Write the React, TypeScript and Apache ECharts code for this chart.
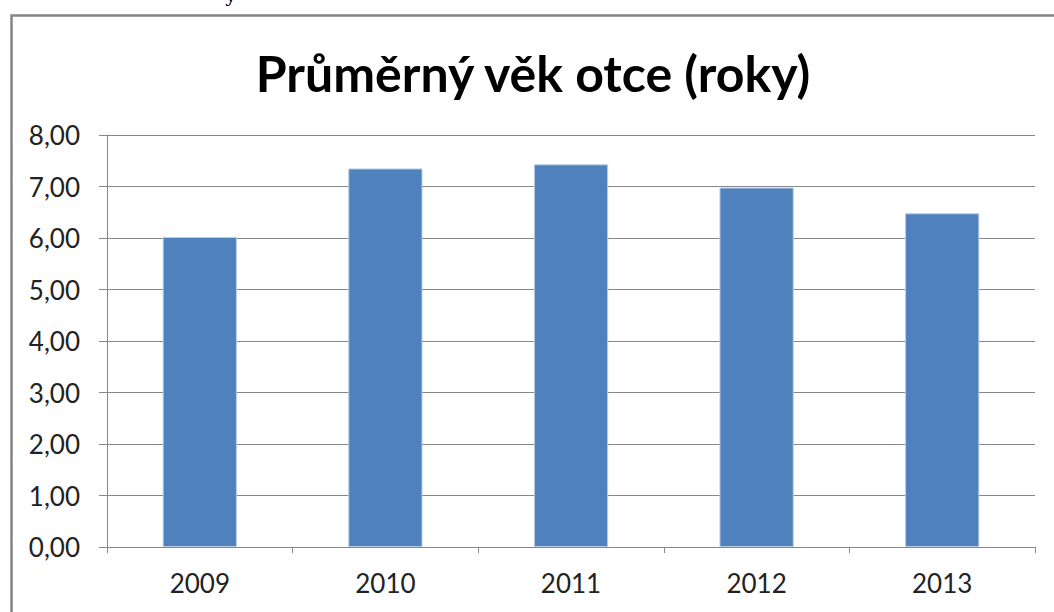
import React, { useEffect, useRef } from "react";
import * as echarts from "echarts";

const categories = ["2009", "2010", "2011", "2012", "2013"];
const values = [6.02, 7.35, 7.43, 6.98, 6.48];
const titleText = "Průměrný věk otce (roky)";
const FONT = "Lato, 'Open Sans', sans-serif";
const GRAY = "#868686";

export default function App() {
  const ref = useRef<HTMLDivElement>(null);
  useEffect(() => {
    document.body.style.margin = "0";
    const chart = echarts.init(ref.current!, null, { renderer: "svg" });
    chart.setOption({
      animation: false,
      backgroundColor: "#ffffff",
      grid: { left: 107, right: 19, top: 135, bottom: 65 },
      graphic: [
        {
          type: "rect",
          left: 9,
          top: 13,
          shape: { width: 1200, height: 800 },
          style: { fill: "none", stroke: "#848484", lineWidth: 2.5 },
          z: 0,
        },
        {
          type: "text",
          x: 231,
          y: -15,
          style: { text: "y", font: "20px 'DejaVu Serif', serif", fill: "#000", textAlign: "center" },
        },
        {
          type: "text",
          x: 533,
          y: 73,
          style: {
            text: titleText,
            font: `bold 50px ${FONT}`,
            fill: "#000",
            textAlign: "center",
            textVerticalAlign: "middle",
          },
        },
      ],
      xAxis: {
        type: "category",
        data: categories,
        axisLine: { show: true, lineStyle: { color: GRAY, width: 1 } },
        axisTick: { show: true, length: 6, alignWithLabel: false, lineStyle: { color: GRAY } },
        axisLabel: { color: "#222", fontFamily: FONT, fontSize: 26, margin: 23 },
      },
      yAxis: {
        type: "value",
        min: 0,
        max: 8,
        interval: 1,
        axisLine: { show: true, lineStyle: { color: GRAY, width: 1 } },
        axisTick: { show: true, length: 8, lineStyle: { color: GRAY } },
        splitLine: { show: true, lineStyle: { color: GRAY, width: 1 } },
        axisLabel: {
          color: "#222",
          fontFamily: FONT,
          fontSize: 26,
          margin: 27,
          formatter: (v: number) => v.toFixed(2).replace(".", ","),
        },
      },
      series: [
        {
          type: "bar",
          data: values,
          barWidth: "40%",
          itemStyle: { color: "#4F81BD", borderColor: "#B9CDE5", borderWidth: 1 },
        },
      ],
    });
    return () => chart.dispose();
  }, []);
  return <div ref={ref} style={{ width: 1054, height: 612 }} />;
}
